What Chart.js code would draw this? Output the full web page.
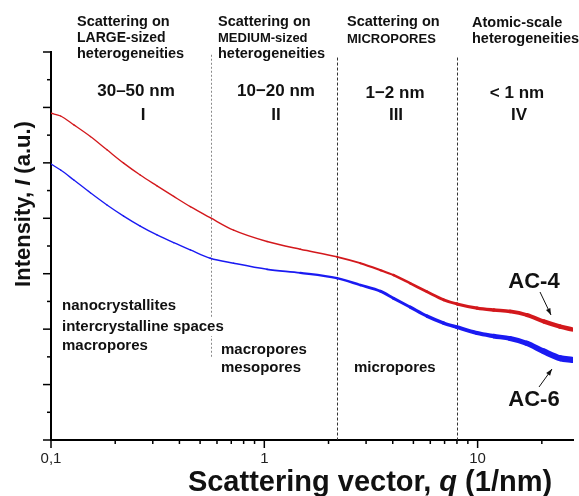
<!DOCTYPE html>
<html>
<head>
<meta charset="utf-8">
<script src="https://cdn.jsdelivr.net/npm/chart.js@4.4.1/dist/chart.umd.min.js"></script>
<style>
  html, body { margin: 0; padding: 0; background: #fff; }
  #wrap { width: 579px; height: 496px; position: relative; }
</style>
</head>
<body>
<div id="wrap"><canvas id="saxs"></canvas></div>
<script>
'use strict';

// ── Data ──────────────────────────────────────────────────────
// scattering vector q (1/nm)
const Q = [0.1, 0.111, 0.128, 0.153, 0.183, 0.219, 0.262, 0.314, 0.376, 0.45,
           0.558, 0.718, 1.03, 1.475, 2.19, 2.82, 3.5, 4.04, 4.84, 5.79,
           6.93, 8.0, 9.94, 11.9, 14.2, 17.0, 20.4, 24.4, 27.7];
// intensity, arbitrary units
const AC4 = [11.79, 11.69, 11.37, 10.95, 10.47, 9.99, 9.56, 9.17, 8.79, 8.42,
             8.02, 7.57, 7.16, 6.88, 6.61, 6.38, 6.13, 5.95, 5.65, 5.35,
             5.06, 4.91, 4.76, 4.69, 4.64, 4.51, 4.28, 4.09, 3.99];
const AC6 = [9.96, 9.74, 9.38, 8.92, 8.48, 8.08, 7.72, 7.40, 7.12, 6.86,
             6.56, 6.38, 6.16, 6.03, 5.84, 5.59, 5.37, 5.11, 4.79, 4.47,
             4.22, 4.07, 3.86, 3.75, 3.66, 3.49, 3.20, 2.95, 2.89];

const X_TICKS = [0.1, 0.2, 0.3, 0.4, 0.5, 0.6, 0.7, 0.8, 0.9,
                 1, 2, 3, 4, 5, 6, 7, 8, 9, 10, 20];
const X_MAJOR = [0.1, 1, 10];
const X_TICK_LABELS = ['0,1', '1', '10'];

// region boundaries in q
const BOUNDS = [0.56, 2.19, 8.0];

// ── Styles ────────────────────────────────────────────────────
const FONT = '"Liberation Sans", Arial, sans-serif';
const RED = '#d3181c';
const BLUE = '#1a1af2';

// noise band thickness grows at high q: [q, px]
const BAND_AC4 = [[0.1, 1.3], [1.5, 1.5], [3, 2], [6, 2.8], [12, 3.4], [28, 4.6]];
const BAND_AC6 = [[0.1, 1.3], [1, 1.6], [3, 2.6], [8, 3.6], [15, 5], [28, 6.5]];

function bandWidth(steps, q) {
  const lq = Math.log10(q);
  for (let i = 1; i < steps.length; i++) {
    const a = steps[i - 1], b = steps[i];
    if (q <= b[0]) {
      const t = (lq - Math.log10(a[0])) / (Math.log10(b[0]) - Math.log10(a[0]));
      return a[1] + t * (b[1] - a[1]);
    }
  }
  return steps[steps.length - 1][1];
}

const bf = (px) => `bold ${px}px ${FONT}`;
const bif = (px) => `italic bold ${px}px ${FONT}`;

// ── Annotation text ───────────────────────────────────────────
const HEADERS = [
  { x: 77,  lines: [['Scattering on', 14.5, 22], ['LARGE-sized', 14, 38], ['heterogeneities', 14.5, 54]] },
  { x: 218, lines: [['Scattering on', 14.5, 22], ['MEDIUM-sized', 13, 38], ['heterogeneities', 14.5, 54]] },
  { x: 347, lines: [['Scattering on', 14.5, 22], ['MICROPORES', 13, 39]] },
  { x: 472, lines: [['Atomic-scale', 14.5, 23], ['heterogeneities', 14.5, 39]] },
];
const SIZES = [
  ['30–50 nm', 136, 91], ['I', 143, 115],
  ['10−20 nm', 276, 91], ['II', 276, 115],
  ['1−2 nm', 395, 93], ['III', 396, 115],
  ['< 1 nm', 517, 93], ['IV', 519, 115],
];
const NOTES = [
  ['nanocrystallites', 62, 306], ['intercrystalline spaces', 62, 327], ['macropores', 62, 346],
  ['macropores', 221, 350], ['mesopores', 221, 368],
  ['micropores', 354, 368],
];

function text(ctx, str, x, y, font, align, bg) {
  ctx.font = font;
  ctx.textAlign = align || 'left';
  ctx.textBaseline = 'middle';
  if (bg) {
    const w = ctx.measureText(str).width;
    const x0 = align === 'center' ? x - w / 2 : x;
    ctx.fillStyle = '#fff';
    ctx.fillRect(x0 - 1, y - 9, w + 2, 18);
  }
  ctx.fillStyle = '#111';
  ctx.fillText(str, x, y);
}

// draws a run of [string, font] pieces centred on (0,0) of the current transform
function mixedText(ctx, parts) {
  ctx.textBaseline = 'middle';
  ctx.textAlign = 'left';
  let total = 0;
  parts.forEach(([s, f]) => { ctx.font = f; total += ctx.measureText(s).width; });
  let x = -total / 2;
  ctx.fillStyle = '#111';
  parts.forEach(([s, f]) => { ctx.font = f; ctx.fillText(s, x, 0); x += ctx.measureText(s).width; });
}

function arrow(ctx, x0, y0, x1, y1) {
  const ang = Math.atan2(y1 - y0, x1 - x0);
  ctx.strokeStyle = '#111';
  ctx.fillStyle = '#111';
  ctx.lineWidth = 1;
  ctx.beginPath();
  ctx.moveTo(x0, y0);
  ctx.lineTo(x1, y1);
  ctx.stroke();
  ctx.beginPath();
  ctx.moveTo(x1, y1);
  ctx.lineTo(x1 - 7 * Math.cos(ang - 0.35), y1 - 7 * Math.sin(ang - 0.35));
  ctx.lineTo(x1 - 7 * Math.cos(ang + 0.35), y1 - 7 * Math.sin(ang + 0.35));
  ctx.closePath();
  ctx.fill();
}

// ── Plugins ───────────────────────────────────────────────────
const regionLines = {
  id: 'regionLines',
  beforeDatasetsDraw(chart) {
    const { ctx, scales: { x, y } } = chart;
    ctx.save();
    ctx.lineWidth = 1;
    BOUNDS.forEach((q, i) => {
      const px = Math.round(x.getPixelForValue(q)) + 0.5;
      ctx.strokeStyle = i === 0 ? '#8a8a8a' : '#333';
      ctx.setLineDash(i === 0 ? [2, 2] : [3, 2]);
      ctx.beginPath();
      ctx.moveTo(px, y.getPixelForValue(i === 0 ? 13.9 : 13.8));
      ctx.lineTo(px, y.getPixelForValue(i === 0 ? 3.0 : 0));
      ctx.stroke();
    });
    ctx.restore();
  }
};

const decorations = {
  id: 'decorations',
  afterDraw(chart) {
    const { ctx, scales: { x, y } } = chart;
    ctx.save();

    // tick marks, outward, major longer
    ctx.strokeStyle = '#000';
    ctx.lineWidth = 1.5;
    x.ticks.forEach(t => {
      const px = x.getPixelForValue(t.value);
      const len = X_MAJOR.includes(t.value) ? 8 : 4;
      ctx.beginPath();
      ctx.moveTo(px, y.bottom);
      ctx.lineTo(px, y.bottom + len);
      ctx.stroke();
    });
    y.ticks.forEach(t => {
      const py = y.getPixelForValue(t.value);
      const len = t.value % 2 === 0 ? 8 : 4;
      ctx.beginPath();
      ctx.moveTo(x.left, py);
      ctx.lineTo(x.left - len, py);
      ctx.stroke();
    });

    HEADERS.forEach(h => h.lines.forEach(([s, px, ly]) => text(ctx, s, h.x, ly, bf(px))));
    SIZES.forEach(([s, cx, cy]) => text(ctx, s, cx, cy, bf(17), 'center'));
    NOTES.forEach(([s, lx, ly]) => text(ctx, s, lx, ly, bf(15), 'left', true));

    text(ctx, 'AC-4', 534, 282, bf(22), 'center');
    text(ctx, 'AC-6', 534, 400, bf(22), 'center');
    arrow(ctx, 540, 292, 551, 315);
    arrow(ctx, 539, 387, 552, 369);

    // axis titles
    ctx.save();
    ctx.translate(24, 204);
    ctx.rotate(-Math.PI / 2);
    mixedText(ctx, [['Intensity, ', bf(22)], ['I', bif(22)], [' (a.u.)', bf(22)]]);
    ctx.restore();

    ctx.save();
    ctx.translate(370, 483);
    mixedText(ctx, [['Scattering vector, ', bf(29)], ['q', bif(29)], [' (1/nm)', bf(29)]]);
    ctx.restore();

    ctx.restore();
  }
};

// ── Chart ─────────────────────────────────────────────────────
const series = (vals) => Q.map((q, i) => ({ x: q, y: vals[i] }));
const band = (steps) => (c) => bandWidth(steps, Math.sqrt(c.p0.parsed.x * c.p1.parsed.x));

new Chart(document.getElementById('saxs'), {
  type: 'line',
  data: {
    datasets: [
      {
        label: 'AC-4',
        data: series(AC4),
        borderColor: RED,
        borderWidth: 1.3,
        borderCapStyle: 'round',
        pointRadius: 0,
        cubicInterpolationMode: 'monotone',
        segment: { borderWidth: band(BAND_AC4) }
      },
      {
        label: 'AC-6',
        data: series(AC6),
        borderColor: BLUE,
        borderWidth: 1.3,
        borderCapStyle: 'round',
        pointRadius: 0,
        cubicInterpolationMode: 'monotone',
        segment: { borderWidth: band(BAND_AC6) }
      }
    ]
  },
  options: {
    responsive: true,
    maintainAspectRatio: false,
    animation: false,
    layout: { padding: { left: 0, top: 52, right: 6, bottom: 0 } },
    plugins: { legend: { display: false }, tooltip: { enabled: false } },
    scales: {
      x: {
        type: 'logarithmic',
        min: 0.1,
        max: 28,
        afterBuildTicks: (s) => { s.ticks = X_TICKS.map(v => ({ value: v })); },
        afterFit: (s) => { s.height = 56; },
        grid: { display: false, drawTicks: true, tickLength: 6 },
        border: { color: '#000', width: 2 },
        ticks: {
          autoSkip: false,
          maxRotation: 0,
          padding: 4,
          color: '#222',
          font: { family: FONT, size: 15 },
          callback: (v) => {
            const i = X_MAJOR.indexOf(v);
            return i >= 0 ? X_TICK_LABELS[i] : '';
          }
        }
      },
      y: {
        min: 0,
        max: 14,
        afterFit: (s) => { s.width = 51; },
        grid: { display: false },
        border: { color: '#000', width: 2 },
        ticks: { display: false, stepSize: 1 }
      }
    }
  },
  plugins: [regionLines, decorations]
});
</script>
</body>
</html>
